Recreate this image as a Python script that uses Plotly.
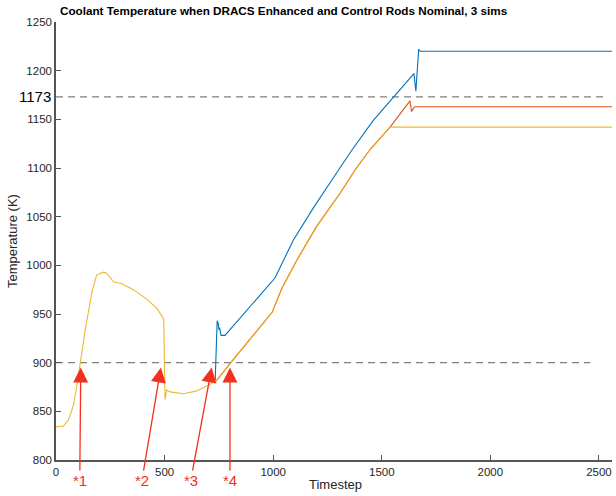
import plotly.graph_objects as go

# ---- data ----
yellow_t = [0, 34, 57, 80, 95, 110, 134, 165, 187, 218, 233, 265, 303, 356, 419, 464, 496, 502, 510, 525, 588, 648, 696, 737,
            801, 996, 1039, 1108, 1200, 1308, 1377, 1446, 1538, 2560]
yellow_v = [834, 835, 841, 856, 875, 899, 933, 972, 990, 993, 992, 983, 981, 975, 965, 956, 945, 862, 872, 870, 868, 871, 876, 881,
            899, 952, 976, 1005, 1040, 1074, 1098, 1119, 1142, 1142]

orange_t = [737, 801, 996, 1039, 1108, 1200, 1308, 1377, 1446, 1538, 1630, 1637, 1645, 1653, 2560]
orange_v = [881, 899, 952, 976, 1005, 1040, 1074, 1098, 1119, 1142, 1169, 1158, 1161, 1163, 1163]

blue_t = [733, 742, 747, 750, 753, 760, 778, 996, 1008, 1093, 1185, 1277, 1361, 1461, 1561, 1648, 1657, 1670, 1676, 2560]
blue_v = [882, 943, 940, 934, 936, 928, 928, 983, 987, 1026, 1059, 1090, 1118, 1149, 1175, 1197, 1179, 1222, 1220, 1220]

ref_lines = [900, 1173]
ref_ends = [2460, 2520]

marker_labels = ["*1", "*2", "*3", "*4"]
marker_t = [114, 483, 717, 801]
marker_shift = [-1, -19, -21, 0]

title = "Coolant Temperature when DRACS Enhanced and Control Rods Nominal, 3 sims"

fig = go.Figure()
for lv, le in zip(ref_lines, ref_ends):
    fig.add_trace(go.Scatter(x=[0, le], y=[lv, lv], mode="lines",
                             line=dict(color="#808080", width=1.3, dash="7px,5px"),
                             showlegend=False, hoverinfo="skip"))
fig.add_trace(go.Scatter(x=blue_t, y=blue_v, mode="lines", line=dict(color="#0072BD", width=1.1), showlegend=False))
fig.add_trace(go.Scatter(x=orange_t, y=orange_v, mode="lines", line=dict(color="#D95319", width=1.1), showlegend=False))
fig.add_trace(go.Scatter(x=yellow_t, y=yellow_v, mode="lines", line=dict(color="#EDB120", width=1.1),
                         opacity=0.9, showlegend=False))

font = "Liberation Sans, Arial, Helvetica, sans-serif"
ann = []
for lab, t, s in zip(marker_labels, marker_t, marker_shift):
    ann.append(dict(x=t, y=895, xref="x", yref="y", text=lab, showarrow=True,
                    ax=s, ay=113, axref="pixel", ayref="pixel",
                    arrowhead=2, arrowsize=2.3, arrowwidth=1.3, arrowcolor="#F2301E",
                    font=dict(color="#F2301E", size=15, family=font), standoff=0))
ann.append(dict(x=0, y=1173, xref="paper", yref="y", text="1173", showarrow=False,
                xanchor="right", xshift=-3, font=dict(size=15, color="black", family=font)))
ann.append(dict(x=(283.7 - 56) / 556, y=1 + 11 / 438, xref="paper", yref="paper", text="<b>" + title + "</b>",
                showarrow=False, xanchor="center", yanchor="middle", font=dict(size=11.7, color="black", family=font)))
ann.append(dict(x=(335 - 56) / 556, y=-24 / 438, xref="paper", yref="paper", text="Timestep",
                showarrow=False, xanchor="center", yanchor="middle", font=dict(size=13, color="#262626", family=font)))
ann.append(dict(x=-44 / 556, y=0.5, xref="paper", yref="paper", text="Temperature (K)", textangle=-90,
                showarrow=False, xanchor="center", yanchor="middle", font=dict(size=13, color="#262626", family=font)))

fig.update_layout(
    width=616, height=496,
    margin=dict(l=56, r=4, t=22, b=36, autoexpand=False),
    plot_bgcolor="white", paper_bgcolor="white",
    font=dict(family=font, size=11, color="#262626"),
    annotations=ann,
)
fig.update_xaxes(range=[0, 2560], tickvals=[0, 500, 1000, 1500, 2000, 2500], ticks="inside", ticklen=5,
                 tickcolor="#555555", showline=True, linecolor="#555555", linewidth=1.5, showgrid=False,
                 zeroline=False, tickfont=dict(size=11.5), automargin=False)
fig.update_yaxes(range=[800, 1250], dtick=50, ticks="inside", ticklen=5,
                 tickcolor="#555555", showline=True, linecolor="#555555", linewidth=1.5, showgrid=False,
                 zeroline=False, tickfont=dict(size=11.5), automargin=False)

fig.write_html("out.html", config={"displayModeBar": False},
               post_script="document.body.style.margin='0';document.body.style.overflow='hidden';")
